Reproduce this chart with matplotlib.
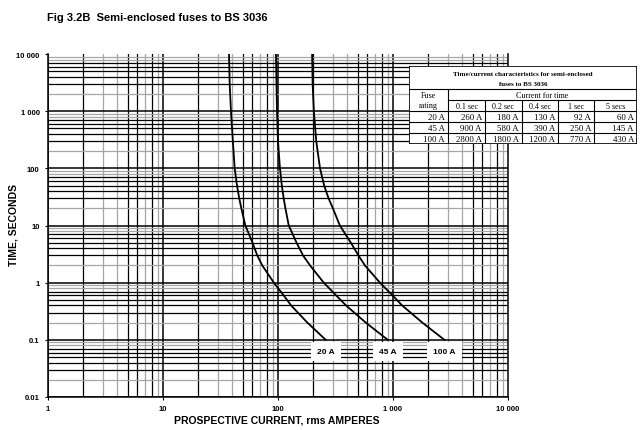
import matplotlib.pyplot as plt
import numpy as np

# time/current curves (seconds, amps)
times = [10000, 3000, 1000, 300, 100, 50, 30, 20, 10, 5, 3, 2, 1, 0.6, 0.4, 0.2, 0.1]
amps_20 = [37.5, 38, 39, 40.5, 42, 44, 46, 48, 52, 60, 66, 73, 92, 112, 130, 180, 260]
amps_45 = [96, 97, 98, 100, 104, 108, 112, 116, 124, 145, 165, 190, 250, 320, 390, 580, 900]
amps_100 = [198, 200, 205, 215, 232, 252, 275, 300, 345, 430, 500, 570, 770, 990, 1200, 1800, 2800]
curve_names = ['20 A', '45 A', '100 A']

x_ticks = [1, 10, 100, 1000, 10000]
x_labels = ['1', '10', '100', '1 000', '10 000']
y_ticks = [0.01, 0.1, 1, 10, 100, 1000, 10000]
y_labels = ['0.01', '0.1', '1', '10', '100', '1 000', '10 000']

# table in the corner
tbl_head = ['0.1 sec', '0.2 sec', '0.4 sec', '1 sec', '5 secs']
tbl_rating = ['20 A', '45 A', '100 A']
tbl_vals = [['260 A', '180 A', '130 A', '92 A', '60 A'],
            ['900 A', '580 A', '390 A', '250 A', '145 A'],
            ['2800 A', '1800 A', '1200 A', '770 A', '430 A']]

plt.rcParams['font.family'] = ['Liberation Sans', 'DejaVu Sans']

fig = plt.figure(figsize=(6.4, 4.31), dpi=100)
ax = fig.add_axes([48/640, 1 - 398/431, 460/640, 343/431])
ax.set_xscale('log')
ax.set_yscale('log')
ax.set_xlim(1, 10000)
ax.set_ylim(0.01, 10000)

# grid, drawn by hand to get the scanned look (some lines black, some grey)
xshade = {2: 'k', 3: '0.65', 4: '0.65', 5: 'k', 6: 'k', 7: '0.65', 8: 'k', 9: '0.65'}
yshade = {2: '0.65', 3: 'k', 4: 'k', 5: 'k', 6: 'k', 7: 'k', 8: '0.65', 9: '0.65'}
for dec in [1, 10, 100, 1000]:
    ax.axvline(dec, color='k', lw=1.1, zorder=1)
    for m in range(2, 10):
        ax.axvline(dec * m, color=xshade[m], lw=0.9, zorder=1)
for dec in [0.01, 0.1, 1, 10, 100, 1000]:
    ax.axhline(dec, color='k', lw=1.1, zorder=1)
    for m in range(2, 10):
        ax.axhline(dec * m, color=yshade[m], lw=0.9, zorder=1)

for amps, name in zip([amps_20, amps_45, amps_100], curve_names):
    ax.plot(amps, times, color='k', lw=1.3, zorder=3)
    ax.text(amps[-1], 0.063, name, ha='center', va='center', fontsize=6,
            fontweight='bold', zorder=4,
            bbox=dict(facecolor='white', edgecolor='none', pad=4.5))

ax.set_xticks(x_ticks)
ax.set_xticklabels(x_labels)
ax.set_yticks(y_ticks)
ax.set_yticklabels(y_labels)
ax.minorticks_off()
ax.tick_params(labelsize=5.5, length=2, width=0.8, pad=4)
for lab in ax.get_xticklabels() + ax.get_yticklabels():
    lab.set_fontweight('bold')
for s in ax.spines.values():
    s.set_linewidth(1.1)
ax.spines['top'].set_visible(False)

fig.text(277/640, 1 - 421/431, 'PROSPECTIVE CURRENT, rms AMPERES',
         fontsize=7.5, fontweight='bold', ha='center', va='center')
fig.text(14/640, 1 - 225/431, 'TIME, SECONDS', fontsize=7.5,
         fontweight='bold', rotation=90, ha='center', va='center')

fig.text(47/640, 1 - 18/431, 'Fig 3.2B  Semi-enclosed fuses to BS 3036',
         fontsize=8, fontweight='bold', va='center')

# the table
tx = fig.add_axes([409/640, 1 - 145/431, 228/640, 78/431])
tx.set_xlim(0, 228)
tx.set_ylim(78, 0)
tx.axis('off')
tx.add_patch(plt.Rectangle((0, 0), 228, 78, facecolor='white',
                           edgecolor='k', lw=1.2))
cols = [0, 39, 76, 113, 149, 185, 228]
serif = ['Liberation Serif', 'DejaVu Serif']
for y in [23, 45, 56, 67]:
    tx.plot([0, 228], [y, y], color='k', lw=0.8)
tx.plot([39, 228], [34, 34], color='k', lw=0.8)
tx.plot([39, 39], [23, 78], color='k', lw=0.8)
for c in cols[2:-1]:
    tx.plot([c, c], [34, 78], color='k', lw=0.8)

tx.text(114, 8, 'Time/current characteristics for semi-enclosed', ha='center',
        va='center', fontsize=5, fontweight='bold', family=serif)
tx.text(114, 18, 'fuses to BS 3036', ha='center', va='center', fontsize=5,
        fontweight='bold', family=serif)
tx.text(19.5, 28.5, 'Fuse', ha='center', va='center', fontsize=5.8, family=serif)
tx.text(19.5, 39.5, 'rating', ha='center', va='center', fontsize=5.8,
        family=serif)
tx.text(133, 28.5, 'Current for time', ha='center', va='center', fontsize=5.8,
        family=serif)
for i, h in enumerate(tbl_head):
    tx.text((cols[i + 1] + cols[i + 2]) / 2, 40, h, ha='center', va='center',
            fontsize=5.8, family=serif)
for r, (rating, row) in enumerate(zip(tbl_rating, tbl_vals)):
    yc = 51 + 11 * r
    tx.text(cols[1] - 3, yc, rating, ha='right', va='center', fontsize=6.3,
            family=serif)
    for i, v in enumerate(row):
        tx.text(cols[i + 2] - 3, yc, v, ha='right', va='center', fontsize=6.3,
                family=serif)

fig.savefig('out.png', dpi=100)
